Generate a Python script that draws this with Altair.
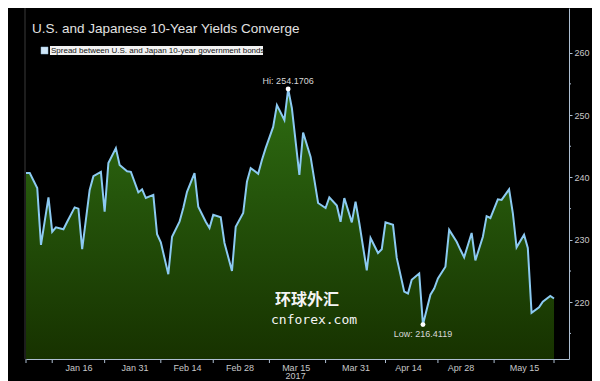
import altair as alt
import pandas as pd

# ---------------- data ----------------
dates = [
    "2017-01-02", "2017-01-03", "2017-01-05", "2017-01-06", "2017-01-08", "2017-01-09", "2017-01-10",
    "2017-01-12", "2017-01-13", "2017-01-15", "2017-01-16", "2017-01-17", "2017-01-19", "2017-01-20",
    "2017-01-22", "2017-01-23", "2017-01-24", "2017-01-26", "2017-01-27", "2017-01-29", "2017-01-30",
    "2017-02-01", "2017-02-02", "2017-02-03", "2017-02-05", "2017-02-06", "2017-02-07", "2017-02-09",
    "2017-02-10", "2017-02-12", "2017-02-13", "2017-02-14", "2017-02-16", "2017-02-17", "2017-02-19",
    "2017-02-20", "2017-02-21", "2017-02-23", "2017-02-24", "2017-02-26", "2017-02-27",
    "2017-03-01", "2017-03-02", "2017-03-03", "2017-03-05", "2017-03-06", "2017-03-07", "2017-03-09",
    "2017-03-10", "2017-03-12", "2017-03-13", "2017-03-14", "2017-03-16", "2017-03-17", "2017-03-19",
    "2017-03-20", "2017-03-21", "2017-03-23", "2017-03-24", "2017-03-26", "2017-03-27", "2017-03-28",
    "2017-03-30", "2017-03-31",
    "2017-04-01", "2017-04-03", "2017-04-04", "2017-04-06", "2017-04-07", "2017-04-08", "2017-04-10",
    "2017-04-11", "2017-04-13", "2017-04-14", "2017-04-15", "2017-04-17", "2017-04-18", "2017-04-20",
    "2017-04-21", "2017-04-22", "2017-04-24", "2017-04-25", "2017-04-27", "2017-04-28", "2017-04-29",
    "2017-05-01", "2017-05-02", "2017-05-04", "2017-05-05", "2017-05-06", "2017-05-08", "2017-05-09",
    "2017-05-11", "2017-05-12", "2017-05-13", "2017-05-15", "2017-05-16", "2017-05-17", "2017-05-19",
    "2017-05-20", "2017-05-22", "2017-05-23",
]

spread = [
    240.7, 240.7, 238.3, 229.2, 236.8, 231.3, 232.0, 231.7, 232.9, 235.2,
    235.0, 228.5, 238.0, 240.2, 240.9, 234.5, 242.3, 244.7, 242.0, 241.0,
    240.9, 237.6, 238.1, 236.7, 237.2, 230.9, 229.6, 224.5, 230.5, 232.9,
    235.1, 237.7, 240.7, 235.3, 232.9, 231.9, 234.0, 233.6, 229.5, 225.0,
    232.1, 234.3, 239.3, 241.5, 240.6, 242.8, 244.7, 248.1, 251.6, 249.2,
    254.1706, 251.1, 240.4, 247.2, 243.3, 239.6, 235.9, 235.1, 236.8, 235.5,
    232.9, 236.7, 232.8, 236.1, 232.7, 225.1, 230.3, 227.9, 228.5, 232.8,
    232.4, 227.1, 221.7, 221.4, 223.6, 224.6, 216.4119, 221.2, 222.2, 223.8,
    225.7, 231.6, 229.7, 228.4, 227.2, 231.1, 226.7, 230.5, 233.8, 233.5,
    236.5, 236.4, 238.1, 234.3, 228.8, 230.8, 228.7, 218.3, 219.2, 220.1,
    221.0, 220.6,
]

x_label_dates = [(1, 16), (1, 31), (2, 14), (2, 28), (3, 15), (3, 31), (4, 14), (4, 28), (5, 15)]
x_boundary_dates = ["2017-01-02", "2017-01-09", "2017-01-23", "2017-02-07", "2017-02-21", "2017-03-08",
                    "2017-03-23", "2017-04-08", "2017-04-22", "2017-05-07", "2017-05-23"]
y_major = [220, 230, 240, 250, 260]
y_minor = [215, 225, 235, 245, 255]
year_label = ["2017-03-15"]

title_text = "U.S. and Japanese 10-Year Yields Converge"
legend_text = "Spread between U.S. and Japan 10-year government bonds"

# ---------------- layout / style ----------------
W, H = 543, 351
Y_MIN, Y_MAX = 210.9, 267.16
FONT = "Liberation Sans"
AXIS_COL = "#aebfd2"
LABEL_COL = "#c8c8c8"
LINE_COL = "#8ccaf2"

df = pd.DataFrame({"date": dates, "spread": spread})
hi_i = df["spread"].idxmax()
lo_i = df["spread"].idxmin()
hi_df = df.loc[[hi_i]].assign(label=lambda d: "Hi: " + d["spread"].map(lambda v: f"{v:.4f}"))
lo_df = df.loc[[lo_i]].assign(label=lambda d: "Low: " + d["spread"].map(lambda v: f"{v:.4f}"))

x_scale = alt.Scale(
    type="utc",
    domain=[alt.DateTime(year=2017, month=1, date=2, utc=True),
            alt.DateTime(year=2017, month=5, date=27, utc=True)],
)
label_dt = [alt.DateTime(year=2017, month=m, date=d, utc=True) for m, d in x_label_dates]

x_enc = alt.X(
    "date:T", scale=x_scale,
    axis=alt.Axis(values=label_dt, labelExpr="utcFormat(datum.value, '%b %d')", ticks=False,
                  labelColor=LABEL_COL, labelFontSize=9, labelFont=FONT, labelPadding=4,
                  domainColor=AXIS_COL, grid=False, title=None, labelFlush=False,
                  labelOverlap=False),
)
y_enc = alt.Y(
    "spread:Q", scale=alt.Scale(domain=[Y_MIN, Y_MAX], zero=False, nice=False),
    axis=alt.Axis(orient="right", values=y_major, tickSize=3, tickColor=AXIS_COL,
                  domainColor=AXIS_COL, labelColor=LABEL_COL, labelFontSize=9, labelFont=FONT,
                  labelPadding=2, grid=False, title=None),
)

gradient = alt.Gradient(
    gradient="linear",
    stops=[alt.GradientStop(color="#2e6c12", offset=0),
           alt.GradientStop(color="#173200", offset=1)],
    x1=1, x2=1, y1=0, y2=1,
)

area = alt.Chart(df).mark_area(color=gradient, clip=True).encode(
    x=x_enc, y=y_enc, y2=alt.datum(Y_MIN)
)
line = alt.Chart(df).mark_line(color=LINE_COL, strokeWidth=2, clip=True).encode(
    x="date:T", y="spread:Q"
)
extremes = pd.concat([hi_df, lo_df])
dots = alt.Chart(extremes).mark_circle(color="white", size=24, opacity=1).encode(
    x="date:T", y="spread:Q"
)
hi_text = alt.Chart(hi_df).mark_text(color="#d8d8d8", font=FONT, fontSize=9, dy=-8).encode(
    x="date:T", y="spread:Q", text="label:N"
)
lo_text = alt.Chart(lo_df).mark_text(color="#d8d8d8", font=FONT, fontSize=9, dy=9).encode(
    x="date:T", y="spread:Q", text="label:N"
)

bticks = alt.Chart(pd.DataFrame({"date": x_boundary_dates})).mark_rule(color=AXIS_COL).encode(
    x="date:T", y=alt.value(H), y2=alt.value(H + 4)
)
mticks = alt.Chart(pd.DataFrame({"spread": y_minor})).mark_rule(color=AXIS_COL).encode(
    y="spread:Q", x=alt.value(W), x2=alt.value(W + 2)
)
year = alt.Chart(pd.DataFrame({"date": year_label, "label": ["2017"]})).mark_text(
    color=LABEL_COL, font=FONT, fontSize=9, baseline="middle"
).encode(x="date:T", y=alt.value(H + 17), text="label:N")

one = alt.Data(values=[{}])
left_line = alt.Chart(one).mark_rule(color="#3a3a3a").encode(
    x=alt.value(-1), y=alt.value(-10), y2=alt.value(H)
)
title = alt.Chart(one).mark_text(
    text=title_text, color="#e2e2e2", font=FONT, fontSize=13.5, align="left", baseline="alphabetic"
).encode(x=alt.value(6), y=alt.value(24.5))
leg_box = alt.Chart(one).mark_rect(color="#f2f2f2").encode(
    x=alt.value(24), x2=alt.value(237), y=alt.value(38), y2=alt.value(47)
)
leg_sq = alt.Chart(one).mark_rect(color="#cfe6f7", stroke="#8fb8d8", strokeWidth=0.5).encode(
    x=alt.value(15), x2=alt.value(22), y=alt.value(39), y2=alt.value(46)
)
leg_txt = alt.Chart(one).mark_text(
    text=legend_text, color="#111111", font=FONT, fontSize=8, align="left", baseline="middle"
).encode(x=alt.value(25), y=alt.value(42.5))
wm1 = alt.Chart(one).mark_text(
    text="环球外汇", color="#f4f4f4", font="Noto Sans CJK SC", fontSize=16, fontWeight="bold",
    align="left", baseline="middle"
).encode(x=alt.value(249), y=alt.value(292))
wm2 = alt.Chart(one).mark_text(
    text="cnforex.com", color="#f4f4f4", font="DejaVu Sans Mono", fontSize=13,
    align="left", baseline="middle"
).encode(x=alt.value(245), y=alt.value(312))

chart = alt.layer(
    area, line, left_line, bticks, mticks, year, wm1, wm2, dots, hi_text, lo_text,
    title, leg_box, leg_sq, leg_txt,
).properties(
    width=W, height=H,
    padding={"left": 18, "top": 0, "right": 23, "bottom": 22},
    autosize=alt.AutoSizeParams(type="none"),
    background="#000000",
).configure_view(stroke=None)

chart.save("out.html", embed_options={"renderer": "svg", "actions": False})
